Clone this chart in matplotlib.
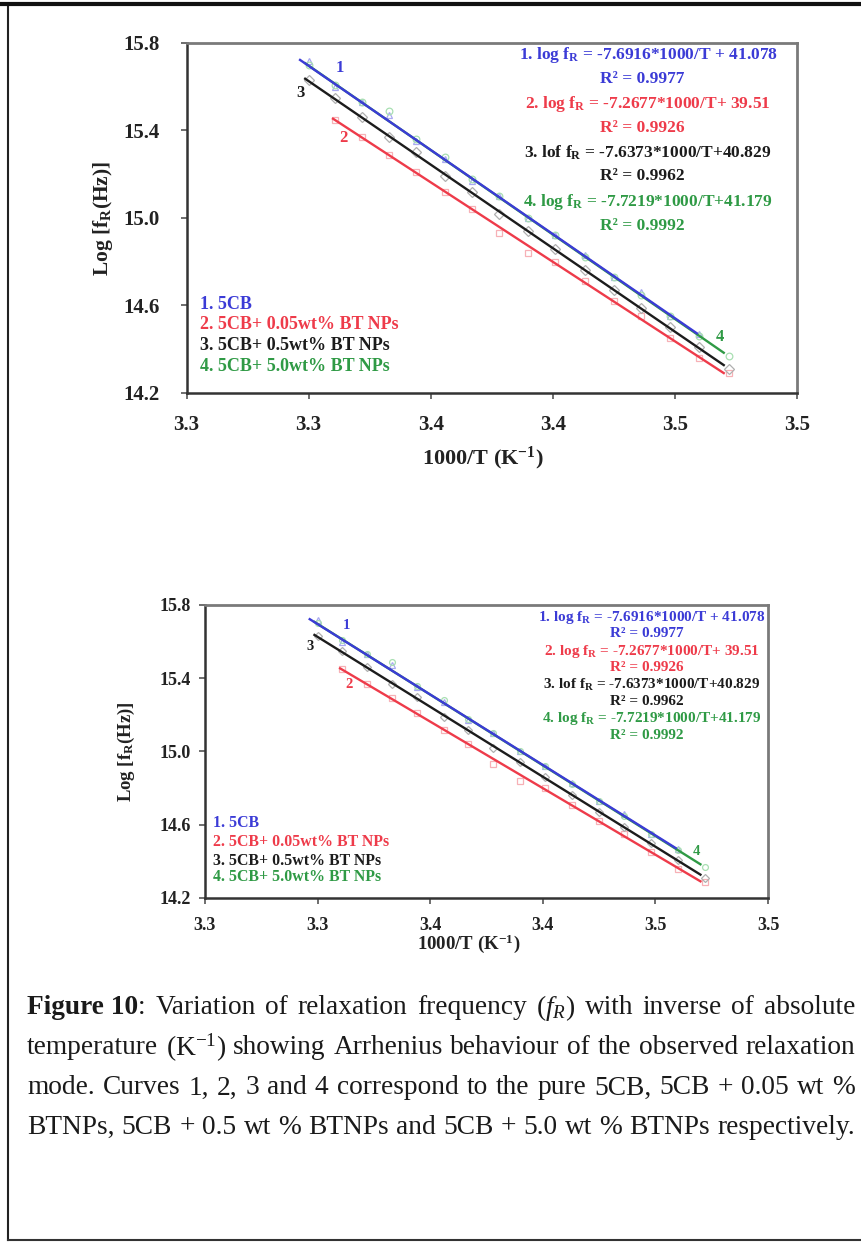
import matplotlib
matplotlib.use("Agg")
from matplotlib import pyplot as plt
from matplotlib.lines import Line2D

plt.rcParams["font.family"] = ["Liberation Serif", "DejaVu Serif"]
plt.rcParams["mathtext.fontset"] = "custom"
plt.rcParams["mathtext.rm"] = "Liberation Serif"
plt.rcParams["mathtext.it"] = "Liberation Serif:italic"
plt.rcParams["mathtext.bf"] = "Liberation Serif:bold"

# 1000/T values (K^-1) for the measured temperatures
inv_t_blue = [3.300, 3.311, 3.322, 3.333, 3.344, 3.356, 3.367, 3.378, 3.390,
              3.401, 3.413, 3.425, 3.436, 3.448, 3.460]
inv_t_red = [3.311, 3.322, 3.333, 3.344, 3.356, 3.367, 3.378, 3.390, 3.401,
             3.413, 3.425, 3.436, 3.448, 3.460, 3.472]
inv_t_black = [3.300, 3.311, 3.322, 3.333, 3.344, 3.356, 3.367, 3.378, 3.390,
               3.401, 3.413, 3.425, 3.436, 3.448, 3.460, 3.472]
inv_t_green = inv_t_black

# log of relaxation frequency
log_f_blue = [15.72, 15.60, 15.53, 15.47, 15.35, 15.27, 15.17, 15.10, 15.00,
              14.92, 14.83, 14.73, 14.66, 14.55, 14.47]
log_f_red = [15.45, 15.37, 15.29, 15.21, 15.12, 15.04, 14.93, 14.84, 14.80,
             14.71, 14.62, 14.55, 14.45, 14.36, 14.29]
log_f_black = [15.63, 15.55, 15.46, 15.37, 15.30, 15.19, 15.12, 15.02, 14.94,
               14.86, 14.76, 14.67, 14.59, 14.50, 14.41, 14.31]
log_f_green = [15.70, 15.61, 15.53, 15.49, 15.36, 15.28, 15.18, 15.10, 15.00,
               14.92, 14.82, 14.73, 14.65, 14.55, 14.46, 14.37]

# linear fits: slope, intercept, x-range of the drawn fit line
fit_slopes = [-7.6916, -7.2677, -7.6373, -7.7219]
fit_intercepts = [41.078, 39.51, 40.829, 41.179]
fit_start = [3.2965, 3.310, 3.2986, 3.2986]
fit_end = [3.459, 3.470, 3.470, 3.470]

series_x = [inv_t_blue, inv_t_red, inv_t_black, inv_t_green]
series_y = [log_f_blue, log_f_red, log_f_black, log_f_green]
line_colors = ["#3b3bd6", "#ee3b4a", "#1c1c1c", "#2f9a45"]
marker_colors = ["#a9a9f2", "#f7b0b6", "#b0b0b0", "#a8dfb2"]
markers = ["^", "s", "D", "o"]

equations = [
    (r"1. log f$_\mathbf{R}$ = -7.6916*1000/T + 41.078", "R² = 0.9977"),
    (r"2. log f$_\mathbf{R}$ = -7.2677*1000/T+ 39.51", "R² = 0.9926"),
    (r"3. lof f$_\mathbf{R}$ = -7.6373*1000/T+40.829", "R² = 0.9962"),
    (r"4. log f$_\mathbf{R}$ = -7.7219*1000/T+41.179", "R² = 0.9992"),
]
sample_names = ["1. 5CB", "2. 5CB+ 0.05wt% BT NPs", "3. 5CB+ 0.5wt% BT NPs",
                "4. 5CB+ 5.0wt% BT NPs"]
curve_tags = ["1", "2", "3", "4"]
tag_x = [3.3129, 3.3141, 3.2965, 3.4684]
tag_y = [15.686, 15.366, 15.571, 14.456]

x_ticks = [3.25, 3.30, 3.35, 3.40, 3.45, 3.50]
x_tick_labels = ["3.3", "3.3", "3.4", "3.4", "3.5", "3.5"]
y_ticks = [14.2, 14.6, 15.0, 15.4, 15.8]
y_tick_labels = ["14.2", "14.6", "15.0", "15.4", "15.8"]

caption_lines = [
    [("Figure 10", "bold"), (":", "normal"), ("Variation", "normal"), ("of", "normal"),
     ("relaxation", "normal"), ("frequency", "normal"), (r"($f_{R}$)", "normal"),
     ("with", "normal"), ("inverse", "normal"), ("of", "normal"), ("absolute", "normal")],
    "temperature (K$^{-1}$) showing Arrhenius behaviour of the observed relaxation",
    "mode. Curves 1, 2, 3 and 4 correspond to the pure 5CB, 5CB + 0.05 wt %",
    "BTNPs, 5CB + 0.5 wt % BTNPs and 5CB + 5.0 wt % BTNPs respectively.",
]

W, H = 861, 1249
fig = plt.figure(figsize=(W / 100, H / 100), dpi=100)
fig.patch.set_facecolor("white")


def px_axes(left, top, right, bottom):
    return fig.add_axes([left / W, 1 - bottom / H, (right - left) / W, (bottom - top) / H])


def draw_panel(ax, sizes, eq_x, eq_y, leg_x, leg_y, ylab_x, xlab_xy, tick_pad):
    fs_eq, fs_leg, fs_tick, fs_ylab, fs_xlab, fs_tag = sizes
    for i in range(4):
        ax.plot(series_x[i], series_y[i], linestyle="none", marker=markers[i],
                markersize=fs_tag * 0.4, markerfacecolor="none",
                markeredgecolor=marker_colors[i], markeredgewidth=0.9, zorder=2)
    for i in [3, 2, 1, 0]:
        xs = [fit_start[i], fit_end[i]]
        ys = [fit_slopes[i] * x + fit_intercepts[i] for x in xs]
        ax.plot(xs, ys, color=line_colors[i], lw=1.7, zorder=3)
    for i in range(4):
        ax.text(tag_x[i], tag_y[i], curve_tags[i], color=line_colors[i],
                fontsize=fs_tag, fontweight="bold", ha="center", va="center")
        eq, r2 = equations[i]
        ax.text(eq_x, eq_y[2 * i], eq, transform=ax.transAxes, color=line_colors[i],
                fontsize=fs_eq, fontweight="bold", ha="center", va="center")
        ax.text(eq_x - 0.01, eq_y[2 * i + 1], r2, transform=ax.transAxes,
                color=line_colors[i], fontsize=fs_eq, fontweight="bold",
                ha="center", va="center")
        ax.text(leg_x, leg_y[i], sample_names[i], transform=ax.transAxes,
                color=line_colors[i], fontsize=fs_leg, fontweight="bold",
                ha="left", va="center")

    ax.set_xlim(3.25, 3.50)
    ax.set_ylim(14.2, 15.8)
    ax.set_xticks(x_ticks)
    ax.set_xticklabels(x_tick_labels, fontsize=fs_tick, fontweight="bold", color="#222222")
    ax.set_yticks(y_ticks)
    ax.set_yticklabels(y_tick_labels, fontsize=fs_tick, fontweight="bold", color="#222222")
    ax.tick_params(axis="x", direction="out", length=4, width=1.2, pad=tick_pad[0],
                   color="#555555")
    ax.tick_params(axis="y", direction="out", length=4, width=1.2, pad=tick_pad[1],
                   color="#555555")
    ax.set_ylabel(r"Log [f$_\mathbf{R}$(Hz)]", fontsize=fs_ylab, fontweight="bold",
                  color="#222222")
    ax.yaxis.set_label_coords(ylab_x, 0.5)
    ax.set_xlabel(r"1000/T (K$^\mathbf{-1}$)", fontsize=fs_xlab, fontweight="bold",
                  color="#222222")
    ax.xaxis.set_label_coords(*xlab_xy)
    for side in ["left", "bottom"]:
        ax.spines[side].set_color("#333333")
        ax.spines[side].set_linewidth(1.8)
    for side in ["top", "right"]:
        ax.spines[side].set_color("#7a7a7a")
        ax.spines[side].set_linewidth(2.0)


ax1 = px_axes(186.5, 43, 797, 393)
draw_panel(ax1, (12.5, 13, 15, 15.5, 16, 12),
           0.756, [0.966, 0.897, 0.826, 0.757, 0.686, 0.620, 0.546, 0.477],
           0.022, [0.254, 0.197, 0.137, 0.077],
           -0.117, (0.486, -0.147), (12, 15))

ax2 = px_axes(205, 605, 768, 898)
draw_panel(ax2, (11, 11.4, 13, 13.5, 13.6, 10.5),
           0.794, [0.959, 0.904, 0.843, 0.788, 0.727, 0.672, 0.614, 0.556],
           0.014, [0.256, 0.191, 0.126, 0.072],
           -0.121, (0.469, -0.116), (10, 6))

# page frame
fig.add_artist(Line2D([8 / W, 8 / W], [1 - 4 / H, 1 - 1240 / H],
                      transform=fig.transFigure, color="#222222", lw=1.5))
fig.add_artist(Line2D([0, 1], [1 - 4 / H, 1 - 4 / H],
                      transform=fig.transFigure, color="#111111", lw=3))
fig.add_artist(Line2D([8 / W, 1], [1 - 1240 / H, 1 - 1240 / H],
                      transform=fig.transFigure, color="#333333", lw=1.5))

# justified caption, font sized so the densest line fills the column
renderer = fig.canvas.get_renderer()
cap_x0, cap_x1 = 27, 855
cap_rows = [1008, 1048, 1088, 1127]
base_fs = 15
line_words = []
for line in caption_lines:
    if isinstance(line, str):
        line_words.append([(w, "normal") for w in line.split(" ")])
    else:
        line_words.append(line)

natural = []
for words in line_words:
    joined = ""
    for k, (w, _) in enumerate(words):
        if k > 0 and w != ":":
            joined += " "
        joined += w
    t = fig.text(0, 0, joined, fontsize=base_fs)
    natural.append(t.get_window_extent(renderer).width)
    t.remove()
cap_fs = base_fs * (cap_x1 - cap_x0) / max(natural) * 0.995

for row, words in zip(cap_rows, line_words):
    texts = []
    for w, weight in words:
        t = fig.text(0, 1 - row / H, w, fontsize=cap_fs, fontweight=weight,
                     va="center", ha="left", color="#1a1a1a")
        texts.append(t)
    widths = [t.get_window_extent(renderer).width for t in texts]
    gaps = len(texts) - 1
    if words[1][0] == ":":
        gaps -= 1
    gap = ((cap_x1 - cap_x0) - sum(widths)) / gaps
    x = cap_x0
    for k, (t, wdt) in enumerate(zip(texts, widths)):
        t.set_x(x / W)
        x += wdt
        if k + 1 < len(texts) and words[k + 1][0] == ":":
            continue
        x += gap

fig.savefig("out.png", dpi=100)
